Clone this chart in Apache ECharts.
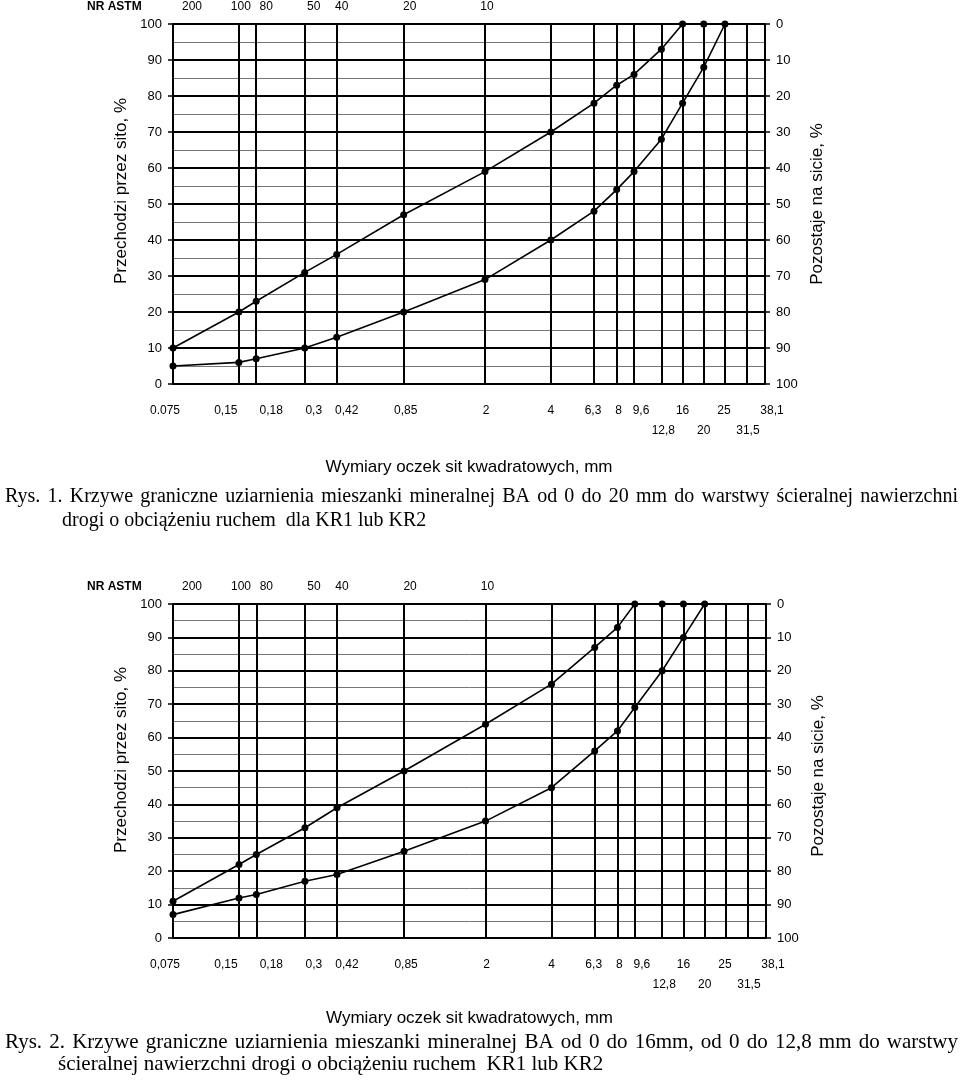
<!DOCTYPE html>
<html>
<head>
<meta charset="utf-8">
<script src="https://cdn.jsdelivr.net/npm/echarts@6/dist/echarts.min.js"></script>
<style>
html,body{margin:0;padding:0;background:#fff}
#c{width:960px;height:1081px}
</style>
</head>
<body>
<div id="c"></div>
<script>
// ---------- DATA ----------
// sieve openings (mm) used as vertical grid lines
const sieveSizes = [0.075, 0.15, 0.18, 0.3, 0.42, 0.85, 2, 4, 6.3, 8, 9.6, 12.8, 16, 20, 25, 31.5, 38.1];
// bottom labels, first row
const row1Sizes = [0.075, 0.15, 0.18, 0.3, 0.42, 0.85, 2, 4, 6.3, 8, 9.6, 16, 25, 38.1];
const row1LabelsFig1 = ['0.075', '0,15', '0,18', '0,3', '0,42', '0,85', '2', '4', '6,3', '8', '9,6', '16', '25', '38,1'];
const row1LabelsFig2 = ['0,075', '0,15', '0,18', '0,3', '0,42', '0,85', '2', '4', '6,3', '8', '9,6', '16', '25', '38,1'];
// bottom labels, second row
const row2Sizes = [12.8, 20, 31.5];
const row2Labels = ['12,8', '20', '31,5'];
// ASTM sieve numbers along the top
const astmSizes = [0.075, 0.15, 0.18, 0.3, 0.42, 0.85, 2];
const astmLabels = ['200', '100', '80', '50', '40', '20', '10'];

// Fig. 1 curves (passing, %)
const fig1UpperX = [0.075, 0.15, 0.18, 0.3, 0.42, 0.85, 2, 4, 6.3, 8, 9.6, 12.8, 16, 20];
const fig1UpperY = [10, 20, 23, 31, 36, 47, 59, 70, 78, 83, 86, 93, 100, 100];
const fig1LowerX = [0.075, 0.15, 0.18, 0.3, 0.42, 0.85, 2, 4, 6.3, 8, 9.6, 12.8, 16, 20, 25];
const fig1LowerY = [5, 6, 7, 10, 13, 20, 29, 40, 48, 54, 59, 68, 78, 88, 100];
// Fig. 2 curves (passing, %)
const fig2UpperX = [0.075, 0.15, 0.18, 0.3, 0.42, 0.85, 2, 4, 6.3, 8, 9.6, 12.8, 16];
const fig2UpperY = [11, 22, 25, 33, 39, 50, 64, 76, 87, 93, 100, 100, 100];
const fig2LowerX = [0.075, 0.15, 0.18, 0.3, 0.42, 0.85, 2, 4, 6.3, 8, 9.6, 12.8, 16, 20];
const fig2LowerY = [7, 12, 13, 17, 19, 26, 35, 45, 56, 62, 69, 80, 90, 100];

// texts
const yNameLeft = 'Przechodzi przez sito, %';
const yNameRight = 'Pozostaje na sicie, %';
const xName = 'Wymiary oczek sit kwadratowych, mm';
const astmTitle = 'NR ASTM';
const caption1 = ['Rys. 1. Krzywe graniczne uziarnienia mieszanki mineralnej BA od 0 do 20 mm do warstwy ścieralnej nawierzchni',
                  'drogi o obciążeniu ruchem  dla KR1 lub KR2'];
const caption2 = ['Rys. 2.  Krzywe graniczne uziarnienia mieszanki mineralnej BA od 0 do 16mm, od 0 do 12,8 mm  do warstwy',
                  'ścieralnej nawierzchni drogi o obciążeniu ruchem  KR1 lub KR2'];

// ---------- STYLE / LAYOUT ----------
const SANS = '"Liberation Sans", Arial, sans-serif';
const SERIF = '"Liberation Serif", "Times New Roman", serif';
const labelShift = {
  row1: [-8, -13, 15, 9, 10, 2, 1, 0, -1, 2, 7, 0, -1, 7],
  row2: [2, 0, 1],
  astm: [19, 2, 10, 9, 5, 6, 2]
};
const figs = [
  { top: 24, height: 360, width: 592, upX: fig1UpperX, upY: fig1UpperY, loX: fig1LowerX, loY: fig1LowerY,
    row1: row1LabelsFig1, leftPad: 26, rightPad: 0, xGap: 75, caption: caption1, capY: [497, 521], cap2X: 62, capSize: 20 },
  { top: 604, height: 334, width: 593, upX: fig2UpperX, upY: fig2UpperY, loX: fig2LowerX, loY: fig2LowerY,
    row1: row1LabelsFig2, leftPad: 22, rightPad: 10, xGap: 72, caption: caption2, capY: [1042, 1064], cap2X: 58, capSize: 21 }
];
const LEFT = 173;

function richFor(shifts, size) {
  const rich = {};
  shifts.forEach((s, i) => {
    rich['s' + i] = {
      fontSize: size, fontFamily: SANS, color: '#000',
      padding: s >= 0 ? [0, 0, 0, 2 * s] : [0, -2 * s, 0, 0]
    };
  });
  return rich;
}
function fmtFor(sizes, labels) {
  return function (value) {
    let best = 0, bd = Infinity;
    sizes.forEach((s, i) => { const d = Math.abs(Math.log(s / value)); if (d < bd) { bd = d; best = i; } });
    return '{s' + best + '|' + labels[best] + '}';
  };
}
function pairs(xs, ys) { return xs.map((x, i) => [x, ys[i]]); }

const option = { backgroundColor: '#fff', animation: false, grid: [], xAxis: [], yAxis: [], series: [], graphic: [] };

const ctx = document.createElement('canvas').getContext('2d');
function justified(text, x0, x1, y, font) {
  ctx.font = font;
  const words = text.split(/\s+/);
  const w = words.map(t => ctx.measureText(t).width);
  const total = w.reduce((a, b) => a + b, 0);
  const gap = (x1 - x0 - total) / (words.length - 1);
  let x = x0;
  return words.map((t, i) => {
    const el = { type: 'text', x: x, y: y, style: { text: t, font: font, fill: '#000', verticalAlign: 'middle' } };
    x += w[i] + gap;
    return el;
  });
}

figs.forEach((f, g) => {
  option.grid.push({ left: LEFT, top: f.top, width: f.width, height: f.height, containLabel: false, outerBoundsMode: 'none' });
  const base = { type: 'log', logBase: 10, gridIndex: g, min: sieveSizes[0], max: sieveSizes[sieveSizes.length - 1],
                 axisLine: { show: false }, axisTick: { show: false }, splitLine: { show: false }, minorSplitLine: { show: false } };
  // main bottom axis: vertical grid lines + first label row + axis title
  option.xAxis.push(Object.assign({}, base, {
    position: 'bottom',
    axisTick: { show: false, customValues: sieveSizes },
    splitLine: { show: true, lineStyle: { color: '#000', width: 2 } },
    axisLabel: { show: true, customValues: row1Sizes, margin: 21, formatter: fmtFor(row1Sizes, f.row1),
                 rich: richFor(labelShift.row1, 12), fontSize: 12, color: '#000', fontFamily: SANS, hideOverlap: false },
    name: xName, nameLocation: 'middle', nameGap: f.xGap,
    nameTextStyle: { fontSize: 17, color: '#000', fontFamily: SANS }
  }));
  // second label row
  option.xAxis.push(Object.assign({}, base, {
    position: 'bottom', offset: 20,
    axisLabel: { show: true, customValues: row2Sizes, margin: 21, formatter: fmtFor(row2Sizes, row2Labels),
                 rich: richFor(labelShift.row2, 12), fontSize: 12, color: '#000', fontFamily: SANS, hideOverlap: false }
  }));
  // ASTM numbers on top
  option.xAxis.push(Object.assign({}, base, {
    position: 'top',
    axisLabel: { show: true, customValues: astmSizes, margin: 11, formatter: fmtFor(astmSizes, astmLabels),
                 rich: richFor(labelShift.astm, 12), fontSize: 12, color: '#000', fontFamily: SANS, hideOverlap: false }
  }));
  const xi = g * 3;

  const yCommon = { type: 'value', gridIndex: g, min: 0, max: 100, interval: 10,
    axisLine: { show: true, lineStyle: { color: '#000', width: 2 } },
    axisTick: { show: true, length: 5, lineStyle: { color: '#000', width: 1.5 } },
    axisLabel: { margin: 11, fontSize: 13, color: '#000', fontFamily: SANS },
    nameLocation: 'middle' };
  option.yAxis.push(Object.assign({}, yCommon, {
    position: 'left',
    splitLine: { show: true, lineStyle: { color: '#000', width: 2 } },
    minorTick: { show: false, splitNumber: 2 },
    minorSplitLine: { show: true, lineStyle: { color: '#777', width: 1 } },
    name: yNameLeft, nameGap: 38,
    nameTextStyle: { fontSize: 17, color: '#000', fontFamily: SANS, padding: [0, 0, 0, f.leftPad] }
  }));
  option.yAxis.push(Object.assign({}, yCommon, {
    position: 'right', inverse: true,
    splitLine: { show: false },
    name: yNameRight, nameGap: 42,
    nameTextStyle: { fontSize: 17, color: '#000', fontFamily: SANS, padding: [0, f.rightPad, 0, 0] }
  }));
  const yi = g * 2;

  const lineSeries = (name, data) => ({
    type: 'line', name: name, xAxisIndex: xi, yAxisIndex: yi, data: data,
    symbol: 'circle', symbolSize: 7, showSymbol: true,
    lineStyle: { color: '#000', width: 1.6 }, itemStyle: { color: '#000' }, z: 5, silent: true
  });
  option.series.push(lineSeries('upper' + (g + 1), pairs(f.upX, f.upY)));
  option.series.push(lineSeries('lower' + (g + 1), pairs(f.loX, f.loY)));

  option.graphic.push({ type: 'text', x: 87, y: f.top - 17.5,
    style: { text: astmTitle, font: 'bold 12px ' + SANS, fill: '#000', verticalAlign: 'middle' } });
  const capFont = f.capSize + 'px ' + SERIF;
  justified(f.caption[0], 5, 958, f.capY[0], capFont).forEach(e => option.graphic.push(e));
  option.graphic.push({ type: 'text', x: f.cap2X, y: f.capY[1],
    style: { text: f.caption[1], font: capFont, fill: '#000', verticalAlign: 'middle' } });
});

const chart = echarts.init(document.getElementById('c'), null, { renderer: 'canvas' });
chart.setOption(option);
</script>
</body>
</html>
